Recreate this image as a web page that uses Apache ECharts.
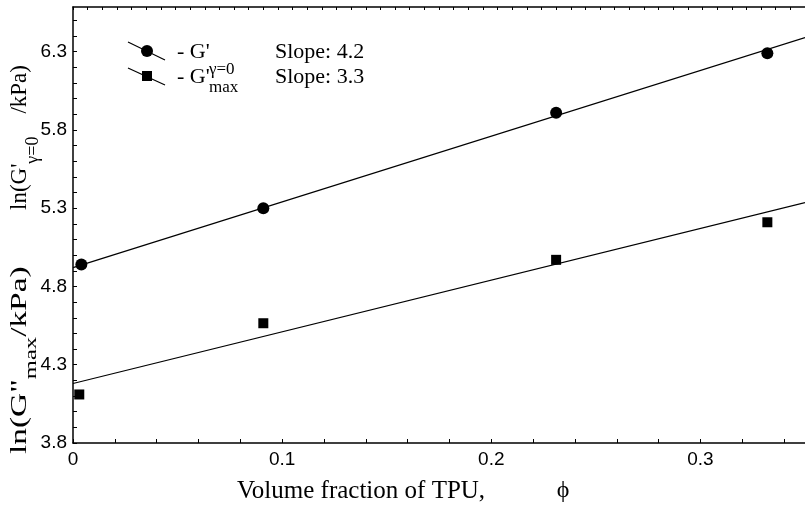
<!DOCTYPE html>
<html><head><meta charset="utf-8">
<script src="https://cdn.jsdelivr.net/npm/echarts@6/dist/echarts.min.js"></script>
<style>html,body{margin:0;padding:0;background:#fff}#c{width:805px;height:506px}</style>
</head><body><div id="c"></div>
<script>
// ---- data ----
const xCircle = [0.004, 0.091, 0.231, 0.332];
const yCircle = [4.94, 5.30, 5.91, 6.29];
const xSquare = [0.003, 0.091, 0.231, 0.332];
const ySquare = [4.11, 4.565, 4.97, 5.21];
const fitX = [0, 0.35];
const fitUpperY = [4.92, 6.39];
const fitLowerY = [4.18, 5.335];
const xTickLabels = [0, 0.1, 0.2, 0.3];
const yTickLabels = [3.8, 4.3, 4.8, 5.3, 5.8, 6.3];
const slopeLabels = ['Slope: 4.2', 'Slope: 3.3'];

// minor tick positions
const xMinor = []; for (let i = 0; i <= 17; i++) xMinor.push(+(i * 0.02).toFixed(3));
const yMinor = []; for (let i = 0; i <= 27; i++) yMinor.push(+(3.8 + i * 0.1).toFixed(2));
const topMinor = []; for (let i = 0; i <= 50; i++) topMinor.push(+(i * 0.007).toFixed(4));

const zip = (a, b) => a.map((v, i) => [v, b[i]]);
const SERIF = '"Liberation Serif","DejaVu Serif",serif';
const SANS = '"Liberation Sans","DejaVu Sans",sans-serif';

const chart = echarts.init(document.getElementById('c'), null, {renderer: 'canvas'});
const axisLine = {show: true, lineStyle: {color: '#000', width: 1.5}};
chart.setOption({
  animation: false,
  backgroundColor: '#fff',
  grid: {left: 73, right: 0, top: 7, bottom: 63},
  xAxis: [{
    type: 'value', min: 0, max: 0.35, position: 'bottom',
    axisLine: axisLine,
    axisTick: {show: true, inside: true, length: 4, lineStyle: {color: '#000', width: 1}, customValues: xMinor},
    axisLabel: {customValues: xTickLabels, color: '#000', fontSize: 19, fontFamily: SANS, margin: 7,
      formatter: v => v === 0 ? '0' : String(+v.toFixed(2))},
    splitLine: {show: false}
  }, {
    type: 'value', min: 0, max: 0.35, position: 'top',
    axisLine: axisLine,
    axisTick: {show: true, inside: true, length: 3, lineStyle: {color: '#000', width: 1}, customValues: topMinor},
    axisLabel: {show: false},
    splitLine: {show: false}
  }],
  yAxis: {
    type: 'value', min: 3.8, max: 6.585,
    axisLine: axisLine,
    axisTick: {show: true, inside: true, length: 4, lineStyle: {color: '#000', width: 1}, customValues: yMinor},
    axisLabel: {customValues: yTickLabels, color: '#000', fontSize: 19, fontFamily: SANS, margin: 6,
      formatter: v => v.toFixed(1)},
    splitLine: {show: false}
  },
  series: [
    {type: 'line', data: zip(fitX, fitUpperY), symbol: 'none', lineStyle: {color: '#000', width: 1.2}, z: 2},
    {type: 'line', data: zip(fitX, fitLowerY), symbol: 'none', lineStyle: {color: '#000', width: 1.2}, z: 2},
    {type: 'scatter', data: zip(xCircle, yCircle), symbol: 'circle', symbolSize: 12, itemStyle: {color: '#000', opacity: 1}, z: 3},
    {type: 'scatter', data: zip(xSquare, ySquare), symbol: 'rect', symbolSize: 10, itemStyle: {color: '#000', opacity: 1}, z: 3}
  ],
  graphic: [
    // legend
    {type: 'line', shape: {x1: 128, y1: 42, x2: 165, y2: 60}, style: {stroke: '#000', lineWidth: 1.2}},
    {type: 'circle', shape: {cx: 147, cy: 51, r: 6}, style: {fill: '#000'}},
    {type: 'line', shape: {x1: 128, y1: 68, x2: 165, y2: 85}, style: {stroke: '#000', lineWidth: 1.2}},
    {type: 'rect', shape: {x: 142, y: 71, width: 10, height: 10}, style: {fill: '#000'}},
    {type: 'text', x: 177, y: 52, style: {text: "- G'", font: '22px ' + SERIF, fill: '#000', textVerticalAlign: 'middle'}},
    {type: 'text', x: 209, y: 70, style: {text: 'γ=0', font: '17px ' + SERIF, fill: '#000', textVerticalAlign: 'middle'}},
    {type: 'text', x: 177, y: 77, style: {text: "- G'", font: '22px ' + SERIF, fill: '#000', textVerticalAlign: 'middle'}},
    {type: 'text', x: 209, y: 88, style: {text: 'max', font: '17px ' + SERIF, fill: '#000', textVerticalAlign: 'middle'}},
    {type: 'text', x: 275, y: 52, style: {text: slopeLabels[0], font: '22px ' + SERIF, fill: '#000', textVerticalAlign: 'middle'}},
    {type: 'text', x: 275, y: 77, style: {text: slopeLabels[1], font: '22px ' + SERIF, fill: '#000', textVerticalAlign: 'middle'}},
    // x axis title
    {type: 'text', x: 237, y: 491, style: {text: 'Volume fraction of TPU,', font: '25px ' + SERIF, fill: '#000', textVerticalAlign: 'middle'}},
    {type: 'text', x: 563, y: 491, style: {text: 'ϕ', font: '24px ' + SERIF, fill: '#000', textAlign: 'center', textVerticalAlign: 'middle'}},
    // y axis titles (rotated)
    {type: 'text', x: 8, y: 454, rotation: Math.PI / 2, scaleX: 1.45, style: {
      text: '{m|ln(G"}{s|max}{m|/kPa)}', fill: '#000', textAlign: 'left', textVerticalAlign: 'top',
      rich: {m: {font: '23px ' + SERIF, lineHeight: 23, verticalAlign: 'top'},
             s: {font: '17px ' + SERIF, lineHeight: 32, verticalAlign: 'bottom'}}}},
    {type: 'text', x: 8, y: 210, rotation: Math.PI / 2, style: {
      text: "{m|ln(G'}{s|γ=0}{m|    /kPa)}", fill: '#000', textAlign: 'left', textVerticalAlign: 'top',
      rich: {m: {font: '23px ' + SERIF, lineHeight: 23, verticalAlign: 'top'},
             s: {font: '18px ' + SERIF, lineHeight: 34, verticalAlign: 'bottom'}}}}
  ]
});
</script></body></html>
